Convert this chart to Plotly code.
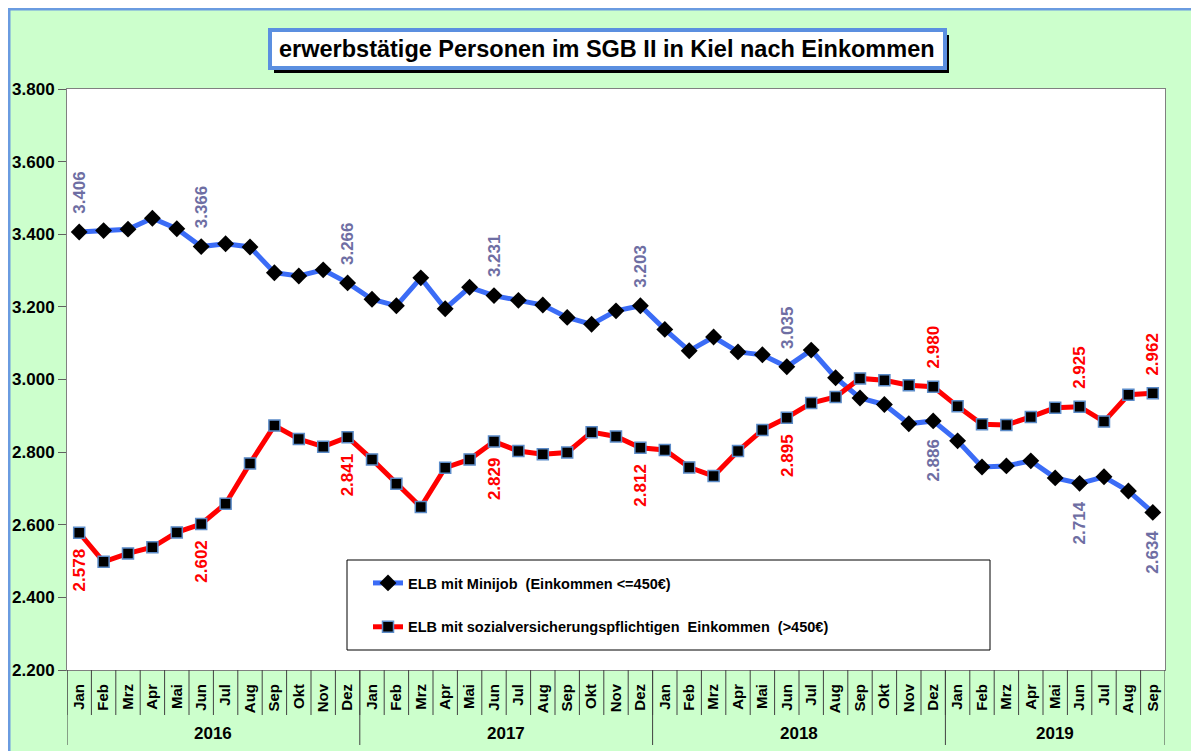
import plotly.graph_objects as go

months = ["Jan", "Feb", "Mrz", "Apr", "Mai", "Jun", "Jul", "Aug", "Sep", "Okt", "Nov", "Dez"]
years = ["2016", "2017", "2018", "2019"]
months_per_year = [12, 12, 12, 9]

minijob = [3406, 3410, 3414, 3444, 3415, 3366, 3374, 3365, 3294, 3285, 3302, 3266,
           3221, 3203, 3280, 3195, 3254, 3231, 3218, 3205, 3171, 3152, 3189, 3203,
           3138, 3079, 3117, 3076, 3068, 3035, 3081, 3005, 2949, 2931, 2878, 2886,
           2831, 2759, 2762, 2776, 2729, 2714, 2732, 2693, 2634]
svp = [2578, 2498, 2521, 2538, 2579, 2602, 2658, 2769, 2873, 2836, 2815, 2841,
       2780, 2713, 2649, 2757, 2780, 2829, 2803, 2794, 2799, 2855, 2843, 2812,
       2806, 2758, 2734, 2803, 2861, 2895, 2935, 2952, 3003, 2998, 2984, 2980,
       2926, 2877, 2875, 2897, 2922, 2925, 2884, 2958, 2962]
label_idx = [0, 5, 11, 17, 23, 29, 35, 41, 44]
blue_above = [True, True, True, True, True, True, False, False, False]

y_ticks = [2200, 2400, 2600, 2800, 3000, 3200, 3400, 3600, 3800]

month_labels = []
for n in months_per_year:
    month_labels += months[:n]
x = list(range(len(month_labels)))

FONT = "Arial, Liberation Sans, sans-serif"
BLUE = "#3B6CF6"
RED = "#FF0000"
BLUE_LBL = "#6E6EA3"

OFF = 8  # page offset of the figure in the screenshot
W, H = 1199, 751
L, R, T, B = 59, 42, 81, 89
PW, PH = W - L - R, H - T - B


def px(xs):
    return (xs - OFF - L) / PW


def py(ys):
    return (H - B - (ys - OFF)) / PH


def fmt(v):
    return f"{v:,}".replace(",", ".")


fig = go.Figure()
fig.add_trace(go.Scatter(
    x=x, y=minijob, mode="lines+markers", name="ELB mit Minijob  (Einkommen <=450€)",
    line=dict(color=BLUE, width=5),
    marker=dict(symbol="diamond", color="black", size=13),
    legendgroup="a"))
fig.add_trace(go.Scatter(
    x=x, y=svp, mode="lines+markers",
    name="ELB mit sozialversicherungspflichtigen  Einkommen  (>450€)",
    line=dict(color=RED, width=5),
    marker=dict(symbol="square", color="black", size=11, line=dict(color="#5B8BC8", width=1.5)),
    legendgroup="b"))

annotations = []
for i, above in zip(label_idx, blue_above):
    annotations.append(dict(x=i, y=minijob[i], xref="x", yref="y", text=fmt(minijob[i]),
                            textangle=-90, showarrow=False,
                            yanchor="bottom" if above else "top",
                            yshift=16 if above else -16,
                            font=dict(family=FONT, size=17, color=BLUE_LBL, weight="bold")))
    annotations.append(dict(x=i, y=svp[i], xref="x", yref="y", text=fmt(svp[i]),
                            textangle=-90, showarrow=False,
                            yanchor="top" if above else "bottom",
                            yshift=-14 if above else 16,
                            font=dict(family=FONT, size=17, color=RED, weight="bold")))

shapes = []
# outer frame (left/top edges)
shapes.append(dict(type="rect", xref="paper", yref="paper", x0=px(9), x1=px(1260), y0=py(800), y1=py(9),
                   line=dict(color="#6A9BE0", width=3), fillcolor="rgba(0,0,0,0)", layer="above"))

start = 0
for yr, n in zip(years, months_per_year):
    annotations.append(dict(x=start + (n - 1) / 2, y=py(733), xref="x", yref="paper", text=yr,
                            showarrow=False, yanchor="middle",
                            font=dict(family=FONT, size=17, color="black", weight="bold")))
    shapes.append(dict(type="line", xref="x", yref="paper", x0=start - 0.5, x1=start - 0.5,
                       y0=py(670), y1=py(745), line=dict(color="#404040", width=1)))
    start += n
shapes.append(dict(type="line", xref="x", yref="paper", x0=start - 0.5, x1=start - 0.5,
                   y0=py(670), y1=py(745), line=dict(color="#404040", width=1)))
for i in x:
    shapes.append(dict(type="line", xref="x", yref="paper", x0=i - 0.5, x1=i - 0.5,
                       y0=py(670), y1=py(715), line=dict(color="#404040", width=1)))

# legend box
shapes.append(dict(type="rect", xref="paper", yref="paper", x0=px(347), x1=px(990), y0=py(650), y1=py(560),
                   line=dict(color="black", width=1), fillcolor="white", layer="below"))

# title box with shadow
shapes.append(dict(type="rect", xref="paper", yref="paper", x0=px(274), x1=px(949), y0=py(73), y1=py(35),
                   line=dict(width=0), fillcolor="black", layer="above"))
shapes.append(dict(type="rect", xref="paper", yref="paper", x0=px(270), x1=px(945), y0=py(68), y1=py(30),
                   line=dict(color="#5B8FE0", width=4), fillcolor="white", layer="above"))
annotations.append(dict(x=px(607), y=py(49), xref="paper", yref="paper",
                        text="erwerbstätige Personen im SGB II in Kiel nach Einkommen",
                        showarrow=False, xanchor="center", yanchor="middle",
                        font=dict(family=FONT, size=23.5, color="black", weight="bold")))

fig.update_layout(
    width=W, height=H,
    margin=dict(l=L, r=R, t=T, b=B),
    paper_bgcolor="#CCFFCC", plot_bgcolor="white",
    showlegend=True,
    legend=dict(x=px(368), y=py(567), xanchor="left", yanchor="top",
                bgcolor="rgba(0,0,0,0)", borderwidth=0, tracegroupgap=22,
                traceorder="grouped", itemwidth=30,
                font=dict(family=FONT, size=14.5, color="black", weight="bold")),
    xaxis=dict(range=[-0.5, len(x) - 0.5], tickmode="array", tickvals=x, ticktext=month_labels,
               tickangle=-90, ticks="", showgrid=False, zeroline=False, automargin=False,
               showline=True, linecolor="#808080", linewidth=1, mirror=True,
               ticklabelstandoff=7,
               tickfont=dict(family=FONT, size=15, color="black", weight="bold")),
    yaxis=dict(range=[2200, 3800], tickmode="array", tickvals=y_ticks,
               ticktext=[fmt(v) for v in y_ticks], automargin=False,
               ticks="outside", ticklen=8, tickcolor="#606060", showgrid=False, zeroline=False,
               showline=True, linecolor="#808080", linewidth=1, mirror=True,
               tickfont=dict(family=FONT, size=17, color="black", weight="bold")),
    shapes=shapes, annotations=annotations,
)

fig.write_html("out.html")
